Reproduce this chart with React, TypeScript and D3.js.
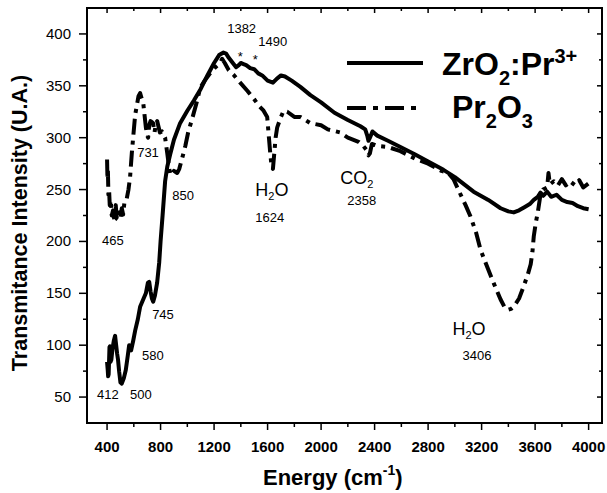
import React from 'react';
import * as d3 from 'd3';

// ZrO2:Pr3+ spectrum, [energy cm-1, transmittance]
const zrSeries: [number, number][] = [
  [400, 84], [405, 76], [408, 70], [412, 72], [418, 98], [422, 99], [426, 84], [432, 86],
  [440, 96], [450, 104], [460, 109], [468, 100], [475, 92], [482, 86], [490, 75], [500, 64],
  [510, 63], [525, 68], [540, 76], [555, 90], [565, 100], [572, 98], [580, 95], [595, 104],
  [610, 114], [630, 125], [647, 137], [670, 144], [690, 150], [705, 160], [715, 161], [725, 152],
  [735, 145], [745, 142], [758, 148], [774, 160], [790, 180], [800, 200], [815, 225], [834, 258],
  [850, 272], [872, 284], [900, 298], [946, 314], [1000, 326], [1050, 336], [1100, 347],
  [1150, 360], [1200, 372], [1240, 380], [1270, 382], [1290, 381], [1310, 377], [1340, 372],
  [1365, 368], [1385, 370], [1400, 372], [1420, 371], [1440, 370], [1470, 367], [1500, 366],
  [1530, 362], [1560, 360], [1600, 355], [1640, 353], [1670, 357], [1700, 360], [1730, 359],
  [1780, 355], [1845, 349], [1920, 341], [2000, 334], [2100, 324], [2200, 317], [2294, 311],
  [2330, 308], [2345, 302], [2354, 297], [2365, 300], [2384, 306], [2420, 302], [2500, 297],
  [2593, 291], [2700, 284], [2800, 277], [2915, 269], [3000, 262], [3140, 248], [3250, 240],
  [3342, 232], [3400, 229], [3440, 228], [3480, 230], [3520, 233], [3560, 236], [3590, 240],
  [3620, 243], [3640, 247], [3660, 244], [3690, 248], [3720, 243], [3760, 245], [3800, 240],
  [3840, 238], [3880, 237], [3920, 234], [3960, 232], [4000, 231],
];

// Pr2O3 spectrum
const prSeries: [number, number][] = [
  [400, 279], [403, 260], [406, 270], [410, 245], [415, 250], [420, 235], [428, 240], [435, 225],
  [445, 230], [455, 220], [465, 235], [472, 222], [482, 221], [492, 228], [500, 222], [510, 232],
  [520, 226], [530, 238], [545, 240], [560, 250], [572, 262], [585, 285], [595, 300], [610, 322],
  [624, 332], [635, 340], [647, 343], [658, 338], [670, 334], [680, 322], [690, 310], [700, 302],
  [707, 300], [715, 312], [725, 316], [735, 315], [744, 314], [755, 305], [765, 314], [775, 316],
  [782, 312], [795, 305], [810, 306], [834, 300], [850, 285], [857, 278], [865, 270], [872, 264],
  [885, 265], [900, 268], [924, 266], [940, 270], [961, 280], [985, 292], [1006, 305], [1040, 320],
  [1074, 336], [1096, 348], [1130, 355], [1170, 362], [1210, 368], [1245, 372], [1260, 376],
  [1280, 372], [1310, 365], [1350, 360], [1395, 353], [1450, 345], [1500, 337], [1540, 330],
  [1570, 326], [1597, 320], [1610, 300], [1620, 285], [1630, 272], [1640, 270], [1650, 285],
  [1660, 300], [1672, 310], [1700, 320], [1720, 326], [1747, 325], [1800, 320], [1845, 320],
  [1920, 314], [2000, 312], [2050, 308], [2144, 305], [2200, 300], [2280, 296], [2316, 292],
  [2340, 288], [2354, 283], [2365, 285], [2380, 294], [2421, 292], [2500, 291], [2593, 287],
  [2700, 280], [2800, 275], [2900, 268], [2950, 266], [2990, 260], [3040, 246], [3080, 235],
  [3117, 224], [3160, 208], [3192, 192], [3240, 176], [3290, 160], [3342, 144], [3370, 137],
  [3394, 134], [3420, 135], [3440, 137], [3480, 145], [3515, 157], [3545, 168], [3567, 178],
  [3580, 190], [3590, 205], [3605, 218], [3620, 228], [3640, 245], [3660, 250], [3690, 252],
  [3700, 266], [3710, 255], [3740, 258], [3770, 254], [3800, 260], [3830, 254], [3860, 258],
  [3900, 254], [3930, 259], [3960, 252], [4000, 256],
];

const xMajor = [400, 800, 1200, 1600, 2000, 2400, 2800, 3200, 3600, 4000];
const xMinor = [600, 1000, 1400, 1800, 2200, 2600, 3000, 3400, 3800];
const yMajor = [50, 100, 150, 200, 250, 300, 350, 400];
const yMinor = [75, 125, 175, 225, 275, 325, 375];

// peak labels: [text, energy, value]
const peakLabels: [string, number, number][] = [
  ['1382', 1298, 401], ['1490', 1530, 388], ['731', 625, 281], ['850', 887, 240],
  ['1624', 1508, 219], ['465', 363, 197], ['745', 737, 125], ['580', 662, 86],
  ['412', 325, 48], ['500', 572, 48], ['2358', 2196, 235], ['3406', 3057, 86],
];
const stars: [number, number][] = [[1396, 374], [1508, 371]];
// molecule labels: [base, sub, tail, energy, value]
const molecules: [string, string, string, number, number][] = [
  ['H', '2', 'O', 1508, 244], ['CO', '2', '', 2144, 255], ['H', '2', 'O', 2982, 110],
];

const W = 607;
const H = 493;
const left = 87, right = 602, top = 8, bottom = 423;
const font = 'Liberation Sans, Arial, Helvetica, sans-serif';

export default function App() {
  const x = d3.scaleLinear().domain([250, 4100]).range([left, right]);
  const y = d3.scaleLinear().domain([25, 425]).range([bottom, top]);
  const line = d3.line<[number, number]>().x((d) => x(d[0])).y((d) => y(d[1]));

  return (
    <svg width={W} height={H} style={{ position: 'absolute', left: 0, top: 0, background: '#fff' }} fontFamily={font}>
      <defs>
        <clipPath id="plot">
          <rect x={left} y={top} width={right - left} height={bottom - top} />
        </clipPath>
      </defs>

      {/* ticks */}
      <g stroke="#000" strokeWidth={1.5}>
        {xMajor.map((v) => (
          <g key={'xm' + v}>
            <line x1={x(v)} x2={x(v)} y1={bottom} y2={bottom + 7} />
            <line x1={x(v)} x2={x(v)} y1={top} y2={top + 5} />
          </g>
        ))}
        {xMinor.map((v) => (
          <g key={'xn' + v}>
            <line x1={x(v)} x2={x(v)} y1={bottom} y2={bottom + 4} />
            <line x1={x(v)} x2={x(v)} y1={top} y2={top + 3} />
          </g>
        ))}
        {yMajor.map((v) => (
          <g key={'ym' + v}>
            <line x1={left - 8} x2={left} y1={y(v)} y2={y(v)} />
            <line x1={right - 5} x2={right} y1={y(v)} y2={y(v)} />
          </g>
        ))}
        {yMinor.map((v) => (
          <g key={'yn' + v}>
            <line x1={left - 4} x2={left} y1={y(v)} y2={y(v)} />
            <line x1={right - 3} x2={right} y1={y(v)} y2={y(v)} />
          </g>
        ))}
      </g>

      <rect x={left} y={top} width={right - left} height={bottom - top} fill="none" stroke="#000" strokeWidth={2} />

      {/* tick labels */}
      {xMajor.map((v) => (
        <text key={'xl' + v} x={x(v)} y={452} textAnchor="middle" fontSize={15} fontWeight="bold">{v}</text>
      ))}
      {yMajor.map((v) => (
        <text key={'yl' + v} x={71} y={y(v) + 5} textAnchor="end" fontSize={15}>{v}</text>
      ))}

      {/* axis titles */}
      <text transform="translate(27,223) rotate(-90)" textAnchor="middle" fontSize={21.5} fontWeight="bold">
        Transmitance Intensity (U.A.)
      </text>
      <text x={263} y={485} fontSize={22} fontWeight="bold">
        Energy (cm<tspan fontSize={14} dy={-10}>-1</tspan><tspan dy={10}>)</tspan>
      </text>

      {/* curves */}
      <g clipPath="url(#plot)" fill="none" stroke="#000" strokeWidth={4} strokeLinejoin="round">
        <path d={line(prSeries) || ''} strokeDasharray="16 6 4 6" />
        <path d={line(zrSeries) || ''} />
      </g>

      {/* annotations */}
      {peakLabels.map(([t, e, v]) => (
        <text key={'p' + t + e} x={x(e)} y={y(v)} fontSize={13}>{t}</text>
      ))}
      {stars.map(([e, v], i) => (
        <text key={'s' + i} x={x(e)} y={y(v)} textAnchor="middle" fontSize={13}>*</text>
      ))}
      {molecules.map(([a, s, b, e, v], i) => (
        <text key={'m' + i} x={x(e)} y={y(v)} fontSize={18}>
          {a}<tspan fontSize={11} dy={4}>{s}</tspan><tspan dy={-4}>{b}</tspan>
        </text>
      ))}

      {/* legend */}
      <line x1={347} x2={423} y1={63} y2={63} stroke="#000" strokeWidth={4} />
      <text x={442} y={75} fontSize={32} fontWeight="bold">
        ZrO<tspan fontSize={20} dy={10}>2</tspan><tspan dy={-10}>:Pr</tspan>
        <tspan fontSize={20} dy={-12}>3+</tspan>
      </text>
      <line x1={347} x2={421} y1={108} y2={108} stroke="#000" strokeWidth={4} strokeDasharray="19 7 5 7" />
      <text x={452} y={118} fontSize={32} fontWeight="bold">
        Pr<tspan fontSize={20} dy={10}>2</tspan><tspan dy={-10}>O</tspan>
        <tspan fontSize={20} dy={10}>3</tspan>
      </text>
    </svg>
  );
}
